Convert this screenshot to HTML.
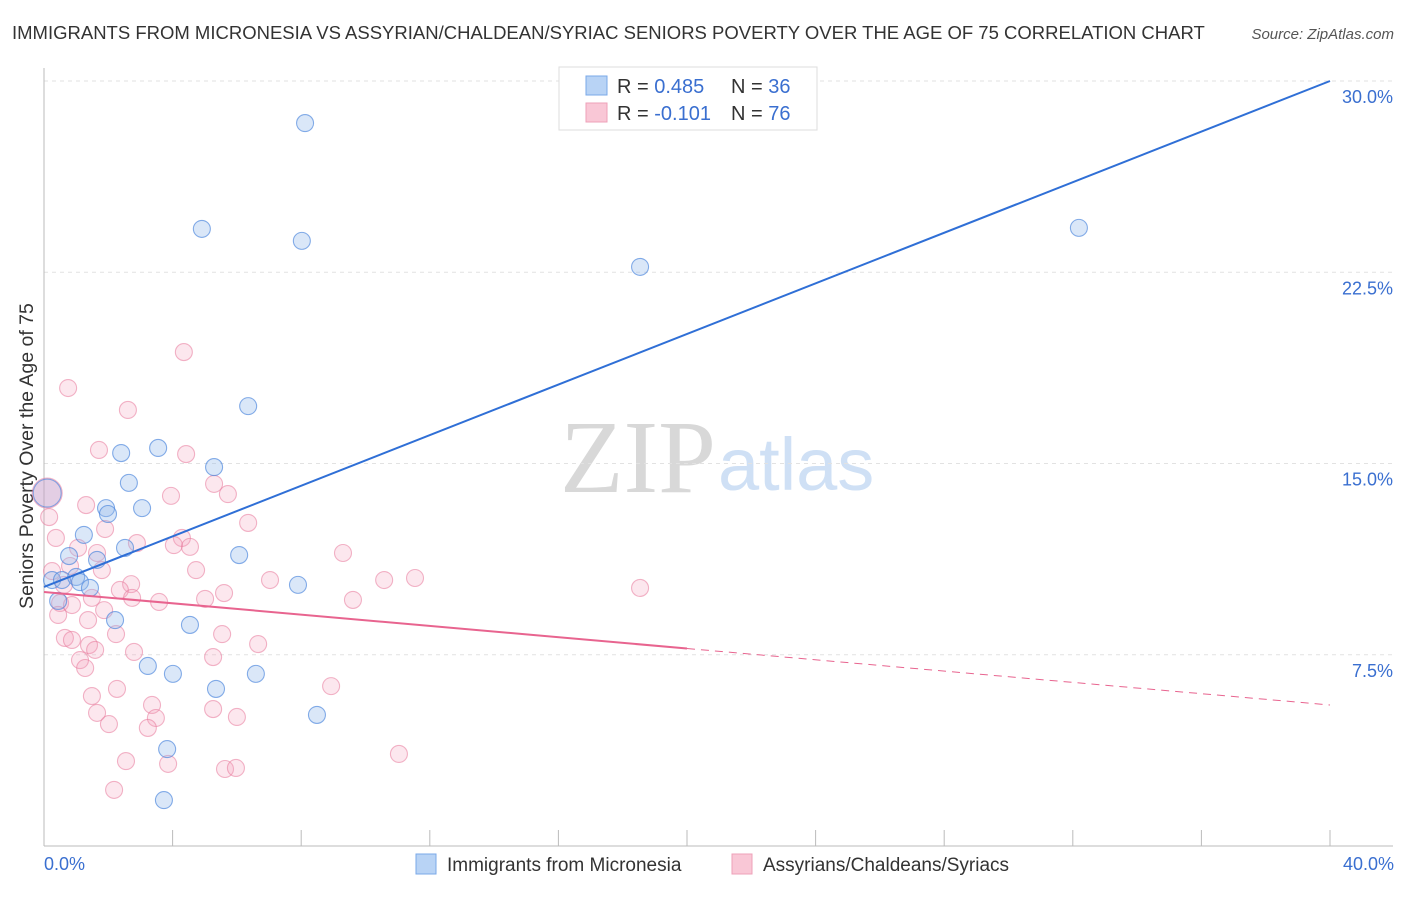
<!DOCTYPE html>
<html><head><meta charset="utf-8">
<style>
body{margin:0;background:#fff;font-family:"Liberation Sans",sans-serif;}
svg text{font-family:"Liberation Sans",sans-serif;}
</style></head>
<body>
<svg id="chart" width="1406" height="892" viewBox="0 0 1406 892" xmlns="http://www.w3.org/2000/svg">
<text x="12" y="39" font-size="18.5" fill="#333">IMMIGRANTS FROM MICRONESIA VS ASSYRIAN/CHALDEAN/SYRIAC SENIORS POVERTY OVER THE AGE OF 75 CORRELATION CHART</text>
<text x="1394" y="39" font-size="15" fill="#555" text-anchor="end" font-style="italic">Source: ZipAtlas.com</text>
<text x="716" y="492" font-size="104" text-anchor="end" fill="#d8d8d8" font-family="Liberation Serif" style="font-family:'Liberation Serif',serif">ZIP</text>
<text x="718" y="490" font-size="74" fill="#cfe0f5">atlas</text>
<text transform="translate(33,456) rotate(-90)" font-size="19.5" fill="#333" text-anchor="middle">Seniors Poverty Over the Age of 75</text>
<g id="grid"></g><g id="axes"></g><g id="pts"></g><g id="lines"></g>
<g>
<rect x="559" y="67" width="258" height="63" fill="#fff" stroke="#ddd"/>
<rect x="586" y="76" width="21" height="19" fill="#b8d3f5" stroke="#7aa8e8"/>
<rect x="586" y="103" width="21" height="19" fill="#f9c7d6" stroke="#eea0b8"/>
<text x="617" y="93" font-size="20" fill="#333">R = <tspan fill="#3a6fd0">0.485</tspan><tspan x="731">N = </tspan><tspan fill="#3a6fd0">36</tspan></text>
<text x="617" y="120" font-size="20" fill="#333">R = <tspan fill="#3a6fd0">-0.101</tspan><tspan x="731">N = </tspan><tspan fill="#3a6fd0">76</tspan></text>
</g>
<g>
<rect x="416" y="854" width="20" height="20" fill="#b8d3f5" stroke="#7aa8e8"/>
<text x="447" y="871" font-size="19" fill="#333">Immigrants from Micronesia</text>
<rect x="732" y="854" width="20" height="20" fill="#f9c7d6" stroke="#eea0b8"/>
<text x="763" y="871" font-size="19" fill="#333">Assyrians/Chaldeans/Syriacs</text>
</g>
</svg>
<script>
const yTicks=[7.5,15,22.5,30];
const yTickLabels=["7.5%","15.0%","22.5%","30.0%"];
const xTicks=[0,4,8,12,16,20,24,28,32,36,40];
const blueX=[8.12,4.91,8.02,18.54,32.19,6.35,3.55,2.40,5.29,2.64,3.05,1.93,1.99,1.24,2.52,6.07,0.78,1.65,0.25,0.56,1.0,1.12,1.43,7.9,0.44,2.21,4.54,3.23,4.01,6.59,5.35,8.49,3.83,3.73,0.1];
const blueY=[28.35,24.2,23.73,22.71,24.24,17.25,15.61,15.41,14.86,14.24,13.25,13.25,13.02,12.2,11.69,11.41,11.37,11.22,10.43,10.43,10.55,10.35,10.12,10.24,9.61,8.86,8.67,7.06,6.75,6.75,6.16,5.14,3.8,1.8,13.84];
const pinkX=[4.35,0.75,2.61,1.71,4.42,5.29,3.95,5.72,1.31,6.35,1.9,0.37,2.89,4.29,4.54,4.04,1.06,1.65,9.3,0.25,0.81,1.8,4.73,10.58,11.54,18.54,2.71,7.03,2.36,0.62,1.49,2.74,3.58,5.01,5.6,9.61,0.5,0.87,1.87,0.44,1.37,2.24,5.54,0.65,0.87,1.4,1.59,6.66,2.8,5.26,1.12,1.28,8.93,2.27,1.49,3.36,1.65,5.26,3.48,2.02,3.23,6.0,2.55,3.86,5.63,5.97,11.04,2.18,0.16,0.1];
const pinkY=[19.37,17.96,17.1,15.53,15.37,14.2,13.73,13.8,13.37,12.67,12.43,12.08,11.88,12.08,11.73,11.8,11.69,11.49,11.49,10.78,10.98,10.82,10.82,10.43,10.51,10.12,10.27,10.43,10.04,10.24,9.73,9.73,9.57,9.69,9.92,9.65,9.53,9.45,9.25,9.06,8.86,8.31,8.31,8.16,8.08,7.88,7.69,7.92,7.61,7.41,7.29,6.98,6.27,6.16,5.88,5.53,5.22,5.37,5.02,4.78,4.63,5.06,3.33,3.22,3.02,3.06,3.61,2.2,12.9,13.84];
const blueFit=[10.16,30];
const pinkFit=[9.96,5.53];
const pinkSolidEnd=20;
const X0=44,X1=1330,YT=81,YB=846;
const xs=v=>X0+(X1-X0)*v/40;
const ys=v=>YB-(YB-YT)*v/30;
const NS="http://www.w3.org/2000/svg";
function mk(parent,tag,attrs){const e=document.createElementNS(NS,tag);for(const k in attrs)e.setAttribute(k,attrs[k]);document.getElementById(parent).appendChild(e);return e;}
yTicks.forEach((t,i)=>{
 const l=mk('grid','line',{x1:X0,x2:1393,y1:ys(t),y2:ys(t),stroke:'#e2e2e2','stroke-dasharray':'4,4'});
 
 
 const tx=mk('grid','text',{x:1393,y:ys(t)+22,'font-size':18,fill:'#3a6fd0','text-anchor':'end'});
 tx.textContent=yTickLabels[i];
 
 
});
let a=mk('axes','line',{x1:X0,x2:X0,y1:68,y2:YB,stroke:'#bbb'});


a=mk('axes','line',{x1:X0,x2:1393,y1:YB,y2:YB,stroke:'#bbb'});


xTicks.forEach(t=>{const l=mk('axes','line',{x1:xs(t),x2:xs(t),y1:830,y2:YB,stroke:'#bbb'});
 
 });
let t=mk('axes','text',{x:44,y:870,'font-size':18,fill:'#3a6fd0'});t.textContent='0.0%';


t=mk('axes','text',{x:1394,y:870,'font-size':18,fill:'#3a6fd0','text-anchor':'end'});t.textContent='40.0%';


pinkX.forEach((x,i)=>{const big=i===pinkX.length-1;const c=mk('pts','circle',{cx:xs(x),cy:ys(pinkY[i]),r:big?15:8.5,fill:'rgba(244,160,188,0.25)',stroke:'rgba(232,120,155,0.55)','stroke-width':1.1});
 
 });
blueX.forEach((x,i)=>{const big=i===blueX.length-1;const c=mk('pts','circle',{cx:xs(x),cy:ys(blueY[i]),r:big?14:8.5,fill:big?'rgba(180,160,210,0.35)':'rgba(150,185,235,0.35)',stroke:'rgba(70,130,220,0.65)','stroke-width':1.1});
 
 });
let L=mk('lines','line',{x1:xs(0),y1:ys(blueFit[0]),x2:xs(40),y2:ys(blueFit[1]),stroke:'#2f6fd6','stroke-width':2});


const py=x=>pinkFit[0]+(pinkFit[1]-pinkFit[0])*x/40;
L=mk('lines','line',{x1:xs(0),y1:ys(py(0)),x2:xs(pinkSolidEnd),y2:ys(py(pinkSolidEnd)),stroke:'#e8648f','stroke-width':2});


L=mk('lines','line',{x1:xs(pinkSolidEnd),y1:ys(py(pinkSolidEnd)),x2:xs(40),y2:ys(py(40)),stroke:'#e8648f','stroke-width':1,'stroke-dasharray':'8,6'});


</script>
</body></html>
